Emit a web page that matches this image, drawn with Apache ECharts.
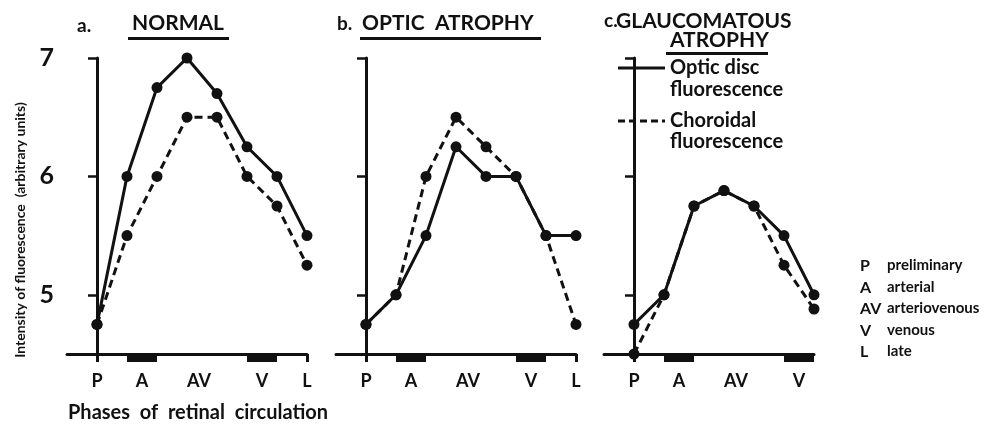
<!DOCTYPE html>
<html lang="en">
<head>
<meta charset="UTF-8">
<title>Phases of retinal circulation</title>
<script src="https://cdn.jsdelivr.net/npm/echarts@6/dist/echarts.min.js"></script>
<style>
  html, body { margin: 0; padding: 0; background: #fff; }
  #chart { width: 996px; height: 430px; }
</style>
</head>
<body>
<div id="chart"></div>
<script>
// phases along the x axis (position index of each measurement)
const positions = [0, 1, 2, 3, 4, 5, 6, 7];
const phaseCodes = ['P', 'A', 'AV', 'V', 'L'];
const phaseNames = ['preliminary', 'arterial', 'arteriovenous', 'venous', 'late'];
const phaseLabelPos = [0, 1.5, 3.4, 5.5, 7];
const phaseBars = [[1, 2], [5, 6]];
const yTicks = [5, 6, 7];

// a. normal
const normalDisc = [4.75, 6.0, 6.75, 7.0, 6.7, 6.25, 6.0, 5.5];
const normalChoroid = [4.75, 5.5, 6.0, 6.5, 6.5, 6.0, 5.75, 5.25];
// b. optic atrophy
const opticDisc = [4.75, 5.0, 5.5, 6.25, 6.0, 6.0, 5.5, 5.5];
const opticChoroid = [4.75, 5.0, 6.0, 6.5, 6.25, 6.0, 5.5, 4.75];
// c. glaucomatous atrophy
const glaucDisc = [4.75, 5.0, 5.75, 5.88, 5.75, 5.5, 5.0];
const glaucChoroid = [4.5, 5.0, 5.75, 5.88, 5.75, 5.25, 4.88];

const FONT = 'Lato';
const INK = '#111';

const panels = [
  { left: 67, width: 240, xMax: 7, disc: normalDisc, choroid: normalChoroid, showY: true, endTicks: [0, 7] },
  { left: 336, width: 240, xMax: 7, disc: opticDisc, choroid: opticChoroid, showY: false, endTicks: [0, 7] },
  { left: 604, width: 210, xMax: 6, disc: glaucDisc, choroid: glaucChoroid, showY: false, endTicks: [0] }
];

const pairs = arr => arr.map((v, i) => [positions[i], v]);

const grid = [], xAxis = [], yAxis = [], series = [];
panels.forEach((p, i) => {
  grid.push({ left: p.left, top: 58, width: p.width, height: 296 });
  xAxis.push({
    type: 'value', gridIndex: i, min: -1, max: p.xMax,
    axisLine: { onZero: false, lineStyle: { color: INK, width: 3 } },
    axisTick: { customValues: p.endTicks, length: 8, lineStyle: { color: INK, width: 3 } },
    axisLabel: {
      customValues: phaseLabelPos.filter(v => v <= p.xMax),
      formatter: v => phaseCodes[phaseLabelPos.indexOf(v)],
      margin: 18, color: INK, fontFamily: FONT, fontWeight: 'bold', fontSize: 18
    },
    splitLine: { show: false }
  });
  yAxis.push({
    type: 'value', gridIndex: i, min: 4.5, max: 7,
    axisLine: { show: true, lineStyle: { color: INK, width: 3 } },
    axisTick: { show: true, customValues: yTicks, length: 9, lineStyle: { color: INK, width: 2.5 } },
    axisLabel: {
      show: p.showY, customValues: yTicks, margin: 13,
      color: INK, fontFamily: FONT, fontWeight: 'bold', fontSize: 25
    },
    splitLine: { show: false }
  });
  series.push({
    type: 'line', xAxisIndex: i, yAxisIndex: i, data: pairs(p.disc),
    symbol: 'circle', symbolSize: 11, clip: false, z: 3,
    itemStyle: { color: INK },
    lineStyle: { color: INK, width: 3, type: 'solid' }
  });
  series.push({
    type: 'line', xAxisIndex: i, yAxisIndex: i, data: pairs(p.choroid),
    symbol: 'circle', symbolSize: 11, clip: false, z: 2,
    itemStyle: { color: INK },
    lineStyle: { color: INK, width: 3, type: [8, 5] }
  });
  // black phase bars just below the x axis
  series.push({
    type: 'custom', xAxisIndex: i, yAxisIndex: i, clip: false, z: 4,
    data: phaseBars.filter(b => b[1] <= p.xMax),
    encode: { x: [0, 1] },
    renderItem: (params, api) => {
      const a = api.coord([api.value(0), 4.5]);
      const b = api.coord([api.value(1), 4.5]);
      return { type: 'rect', shape: { x: a[0], y: a[1] + 1, width: b[0] - a[0], height: 7 }, style: { fill: INK } };
    }
  });
});

const tStyle = (size, extra) => Object.assign({ fill: INK, font: 'bold ' + size + 'px ' + FONT }, extra || {});
const graphic = [
  // panel titles
  { type: 'text', left: 77, top: 16, style: tStyle(19, { text: 'a.' }) },
  { type: 'text', left: 132, top: 13, style: tStyle(21, { text: 'NORMAL' }) },
  { type: 'rect', shape: { x: 128, y: 37, width: 101, height: 3 }, style: { fill: INK } },
  { type: 'text', left: 337, top: 14, style: tStyle(19, { text: 'b.' }) },
  { type: 'text', left: 362, top: 13, style: tStyle(21, { text: 'OPTIC  ATROPHY' }) },
  { type: 'rect', shape: { x: 360, y: 37, width: 181, height: 3 }, style: { fill: INK } },
  { type: 'text', left: 604, top: 11, style: tStyle(19, { text: 'c.' }) },
  { type: 'text', left: 616, top: 11, style: tStyle(21, { text: 'GLAUCOMATOUS' }) },
  { type: 'text', left: 670, top: 30, style: tStyle(21, { text: 'ATROPHY' }) },
  { type: 'rect', shape: { x: 666, y: 52, width: 102, height: 3 }, style: { fill: INK } },
  // line-style legend
  { type: 'line', shape: { x1: 618, y1: 68, x2: 665, y2: 68 }, style: { stroke: INK, lineWidth: 3 } },
  { type: 'text', left: 670, top: 58, style: tStyle(20, { text: 'Optic disc' }) },
  { type: 'text', left: 670, top: 80, style: tStyle(20, { text: 'fluorescence' }) },
  { type: 'line', shape: { x1: 618, y1: 121, x2: 665, y2: 121 }, style: { stroke: INK, lineWidth: 3, lineDash: [7, 4] } },
  { type: 'text', left: 670, top: 111, style: tStyle(20, { text: 'Choroidal' }) },
  { type: 'text', left: 670, top: 132, style: tStyle(20, { text: 'fluorescence' }) },
  // axis titles
  { type: 'text', x: 20, y: 230, rotation: Math.PI / 2,
    style: tStyle(14, { text: 'Intensity of fluorescence  (arbitrary units)', align: 'center', verticalAlign: 'middle' }) },
  { type: 'text', left: 68, top: 403, style: tStyle(20, { text: 'Phases  of  retinal  circulation' }) }
];
// phase key on the right
phaseCodes.forEach((c, i) => {
  const y = 258 + i * 21.5;
  graphic.push({ type: 'text', left: 860, top: y, style: tStyle(16, { text: c }) });
  graphic.push({ type: 'text', left: 887, top: y, style: tStyle(15, { text: phaseNames[i] }) });
});

const chart = echarts.init(document.getElementById('chart'));
chart.setOption({
  backgroundColor: '#fff',
  animation: false,
  grid, xAxis, yAxis, series, graphic
});
</script>
</body>
</html>
